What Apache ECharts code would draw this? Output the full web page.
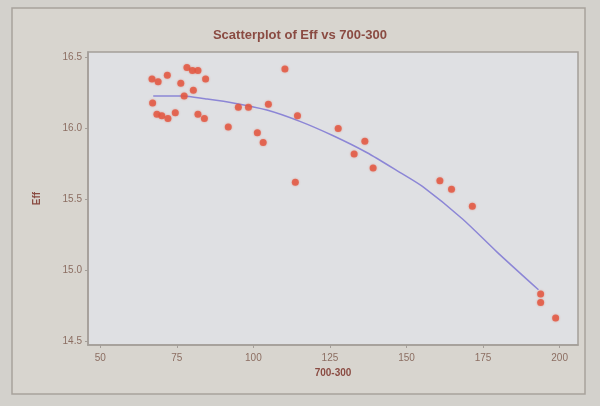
<!DOCTYPE html>
<html>
<head>
<meta charset="utf-8">
<script src="https://cdn.jsdelivr.net/npm/echarts@6/dist/echarts.min.js"></script>
<style>
  html, body { margin: 0; padding: 0; background: #d3d1cc; }
  #chart { width: 600px; height: 406px; }
</style>
</head>
<body>
<div id="chart"></div>
<script>
// Measured pairs: 700-300 (x) and Eff (y)
const x700_300 = [66.9, 68.9, 71.9, 78.3, 80.1, 81.9, 84.4, 76.3, 80.4, 77.4,
                  67.1, 68.5, 70.1, 72.1, 74.5, 81.9, 84.0, 110.3, 95.1, 98.4,
                  104.9, 91.8, 101.3, 103.2, 114.4, 127.7, 136.4, 132.9, 139.1, 113.7,
                  160.9, 164.7, 171.5, 193.8, 193.8, 198.7];
const effValues = [16.35, 16.33, 16.375, 16.43, 16.41, 16.41, 16.35, 16.32, 16.27, 16.23,
                   16.18, 16.10, 16.09, 16.07, 16.11, 16.10, 16.07, 16.42, 16.15, 16.15,
                   16.17, 16.01, 15.97, 15.90, 16.09, 16.00, 15.91, 15.82, 15.72, 15.62,
                   15.63, 15.57, 15.45, 14.83, 14.77, 14.66];

// Smoothed trend line through the cloud
const trendX = [67.3, 77.1, 84.2, 93.4, 104.4, 115.2, 125.9, 137.0, 147.8, 155.2, 168.3, 179.4, 193.1];
const trendY = [16.23, 16.23, 16.21, 16.18, 16.13, 16.05, 15.95, 15.83, 15.69, 15.59, 15.36, 15.13, 14.86];

const xTicks = [50, 75, 100, 125, 150, 175, 200];
const yTicks = [14.5, 15.0, 15.5, 16.0, 16.5];

const points = x700_300.map((x, i) => [x, effValues[i]]);
const trend = trendX.map((x, i) => [x, trendY[i]]);

const labelColor = '#8c6e62';
const chart = echarts.init(document.getElementById('chart'), null, { renderer: 'canvas' });

chart.setOption({
  backgroundColor: '#d3d1cc',
  animation: false,
  graphic: [
    {
      type: 'rect',
      shape: { x: 12, y: 8, width: 573, height: 386 },
      style: { fill: '#d8d5cf', stroke: '#a8a29c', lineWidth: 1.5 },
      z: -10
    }
  ],
  title: {
    text: 'Scatterplot of Eff vs 700-300',
    left: 'center',
    top: 24,
    textStyle: {
      fontFamily: 'Liberation Sans Narrow, Liberation Sans',
      fontSize: 13,
      fontWeight: 'bold',
      color: '#8a4b42'
    }
  },
  grid: {
    left: 88, right: 22, top: 52, bottom: 61,
    show: true,
    backgroundColor: '#dfe0e3',
    borderColor: '#a49e99',
    borderWidth: 1.5
  },
  xAxis: {
    type: 'value',
    min: 46, max: 206,
    name: '700-300',
    nameLocation: 'middle',
    nameGap: 23,
    nameTextStyle: { fontFamily: 'Liberation Sans', fontSize: 10, fontWeight: 'bold', color: '#8a4b42' },
    splitLine: { show: false },
    axisLine: { show: true, lineStyle: { color: '#a49e99', width: 1.5 } },
    axisTick: { show: true, length: 3, customValues: xTicks, lineStyle: { color: '#a49e99' } },
    axisLabel: {
      customValues: xTicks,
      fontFamily: 'Liberation Sans', fontSize: 10, color: labelColor, margin: 8
    }
  },
  yAxis: {
    type: 'value',
    min: 14.47, max: 16.54,
    name: 'Eff',
    nameLocation: 'middle',
    nameGap: 46,
    nameRotate: 90,
    nameTextStyle: { fontFamily: 'Liberation Sans', fontSize: 10, fontWeight: 'bold', color: '#8a4b42' },
    splitLine: { show: false },
    axisLine: { show: true, lineStyle: { color: '#a49e99', width: 1.5 } },
    axisTick: { show: true, length: 3, customValues: yTicks, lineStyle: { color: '#a49e99' } },
    axisLabel: {
      customValues: yTicks,
      formatter: v => v.toFixed(1),
      fontFamily: 'Liberation Sans', fontSize: 10, color: labelColor, margin: 6
    }
  },
  series: [
    {
      type: 'line',
      data: trend,
      smooth: 0.25,
      showSymbol: false,
      lineStyle: { color: '#8c86d6', width: 1.5 },
      z: 2
    },
    {
      type: 'scatter',
      data: points,
      symbol: 'circle',
      symbolSize: 7,
      itemStyle: { color: '#e2553f', shadowBlur: 2, shadowColor: 'rgba(226,85,63,0.6)' },
      z: 3
    }
  ]
});
</script>
</body>
</html>
